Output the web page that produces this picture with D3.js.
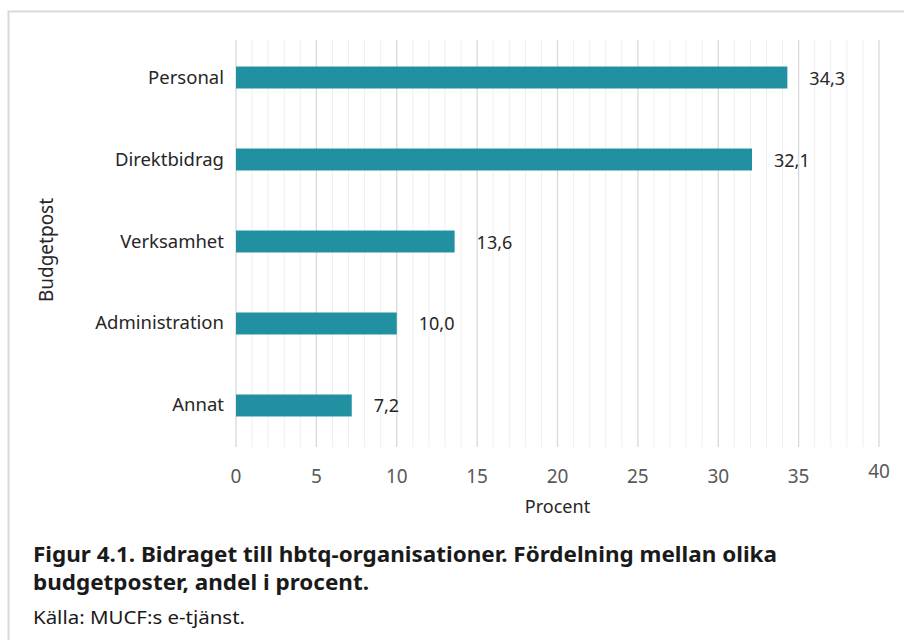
<!DOCTYPE html>
<html>
<head>
<meta charset="utf-8">
<script src="https://d3js.org/d3.v7.min.js"></script>
<style>
  body { margin: 0; background: #fff; }
  svg { font-family: "Noto Sans", "Open Sans", sans-serif; }
  .grid-minor { stroke: #efefef; stroke-width: 1px; }
  .grid-major { stroke: #d9d9d9; stroke-width: 1.3px; }
  .cat { font-size: 18.5px; fill: #262626; }
  .tick-lbl { font-size: 19px; fill: #595959; }
  .val { font-size: 18px; fill: #262626; }
</style>
</head>
<body>
<script>
  // chart data
  var categories = ["Personal", "Direktbidrag", "Verksamhet", "Administration", "Annat"];
  var values = [34.3, 32.1, 13.6, 10.0, 7.2];
  var valueLabels = ["34,3", "32,1", "13,6", "10,0", "7,2"];
  var xTicks = [0, 5, 10, 15, 20, 25, 30, 35, 40];

  var W = 904, H = 640;
  var svg = d3.select("body").append("svg")
      .attr("width", W)
      .attr("height", H);

  // outer frame (top + left edges visible)
  svg.append("path")
      .attr("d", "M8.5," + H + " V11.5 H" + W)
      .attr("fill", "none")
      .attr("stroke", "#d9d9d9")
      .attr("stroke-width", 2);

  var plot = {left: 236, right: 879, top: 40, bottom: 447};

  var x = d3.scaleLinear().domain([0, 40]).range([plot.left, plot.right]);
  var y = d3.scaleBand().domain(categories).range([38, 445]).paddingInner(0.732).paddingOuter(0.348);

  // minor gridlines every 1
  svg.append("g").selectAll("line")
      .data(d3.range(0, 41).filter(function(d) { return d % 5 !== 0; }))
      .enter().append("line")
      .attr("class", "grid-minor")
      .attr("x1", function(d) { return x(d); })
      .attr("x2", function(d) { return x(d); })
      .attr("y1", plot.top).attr("y2", plot.bottom);

  // major gridlines
  svg.append("g").selectAll("line")
      .data(xTicks)
      .enter().append("line")
      .attr("class", "grid-major")
      .attr("x1", function(d) { return x(d); })
      .attr("x2", function(d) { return x(d); })
      .attr("y1", plot.top).attr("y2", plot.bottom);

  // bars
  svg.append("g").selectAll("rect")
      .data(categories)
      .enter().append("rect")
      .attr("x", x(0))
      .attr("y", function(d) { return y(d); })
      .attr("width", function(d, i) { return x(values[i]) - x(0); })
      .attr("height", y.bandwidth())
      .attr("fill", "#2191a1");

  // value labels
  svg.append("g").selectAll("text")
      .data(categories)
      .enter().append("text")
      .attr("class", "val")
      .attr("x", function(d, i) { return x(values[i]) + 22; })
      .attr("y", function(d) { return y(d) + y.bandwidth() / 2 + 7; })
      .text(function(d, i) { return valueLabels[i]; });

  // category labels
  svg.append("g").selectAll("text")
      .data(categories)
      .enter().append("text")
      .attr("class", "cat")
      .attr("text-anchor", "end")
      .attr("x", 224)
      .attr("y", function(d) { return y(d) + y.bandwidth() / 2 + 6; })
      .text(function(d) { return d; });

  // x tick labels
  svg.append("g").selectAll("text")
      .data(xTicks)
      .enter().append("text")
      .attr("class", "tick-lbl")
      .attr("text-anchor", "middle")
      .attr("x", function(d) { return x(d); })
      .attr("y", function(d) { return d === 40 ? 478 : 483; })
      .text(function(d) { return d; });

  // axis titles
  svg.append("text")
      .attr("x", (plot.left + plot.right) / 2)
      .attr("y", 513)
      .attr("text-anchor", "middle")
      .attr("font-size", 18)
      .attr("fill", "#262626")
      .text("Procent");

  svg.append("text")
      .attr("transform", "translate(53,250) rotate(-90)")
      .attr("text-anchor", "middle")
      .attr("font-size", 19)
      .attr("fill", "#262626")
      .text("Budgetpost");

  // caption
  var cap = svg.append("g").attr("transform", "translate(33,0)");
  cap.append("text")
      .attr("y", 562)
      .attr("font-size", 21)
      .attr("font-weight", "bold")
      .attr("fill", "#1a1a1a")
      .attr("textLength", 744)
      .attr("lengthAdjust", "spacingAndGlyphs")
      .text("Figur 4.1. Bidraget till hbtq-organisationer. Fördelning mellan olika");
  cap.append("text")
      .attr("y", 590)
      .attr("font-size", 21)
      .attr("font-weight", "bold")
      .attr("fill", "#1a1a1a")
      .attr("textLength", 336)
      .attr("lengthAdjust", "spacingAndGlyphs")
      .text("budgetposter, andel i procent.");
  cap.append("text")
      .attr("y", 624)
      .attr("font-size", 18)
      .attr("fill", "#1a1a1a")
      .attr("textLength", 212)
      .attr("lengthAdjust", "spacingAndGlyphs")
      .text("Källa: MUCF:s e-tjänst.");
</script>
</body>
</html>
